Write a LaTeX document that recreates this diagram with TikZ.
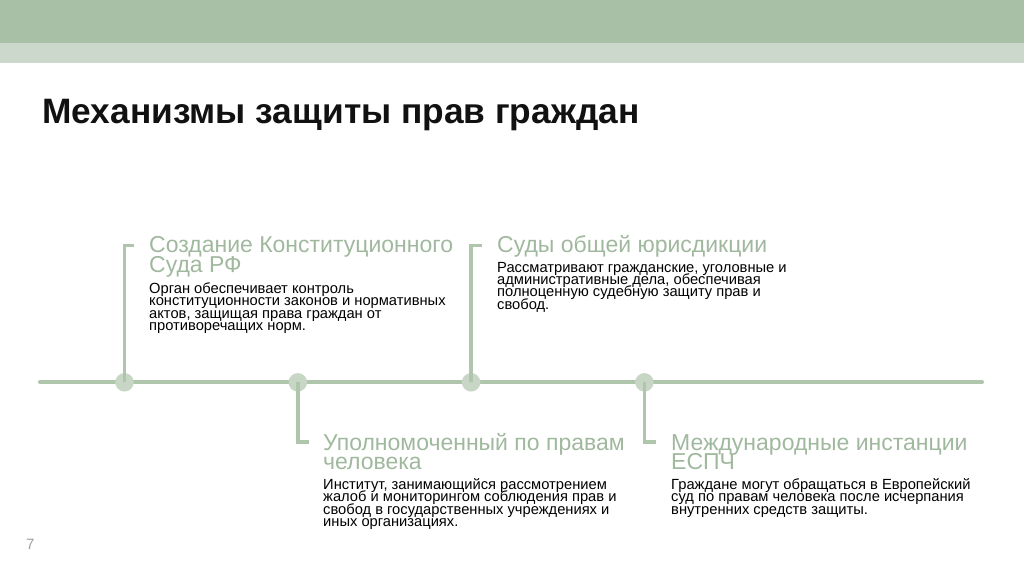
\documentclass[tikz,border=0pt]{standalone}
\usepackage{fontspec}
\setmainfont{Liberation Sans}
\definecolor{topdark}{HTML}{A8C0A6}
\definecolor{toplight}{HTML}{CBD8CB}
\definecolor{linecol}{HTML}{B0C6AC}
\definecolor{dotcol}{HTML}{C8D6C6}
\definecolor{headcol}{HTML}{A0B89D}
\definecolor{titlecol}{HTML}{111111}
\definecolor{numcol}{HTML}{A0A0A0}
\newcommand{\vlines}[1]{\vtop{\lineskiplimit=-100pt\relax\lineskip=0pt\relax #1}}
\tikzset{
  headtext/.style={anchor=base west, inner sep=0pt, text=headcol,
    font=\fontsize{23}{19.7}\selectfont},
  bodytext/.style={anchor=base west, inner sep=0pt, text=black,
    font=\fontsize{14.7}{12.4}\selectfont},
  tline/.style={draw=linecol, line width=4pt, line cap=round},
  bracket/.style={draw=linecol, line width=3.5pt},
  tdot/.style={circle, fill=dotcol, minimum size=18.5pt, inner sep=0pt},
}
\begin{document}
\begin{tikzpicture}[x=1pt, y=-1pt]
\useasboundingbox (0,0) rectangle (1024,574);
% top bars
\fill[topdark] (0,0) rectangle (1024,43.3);
\fill[toplight] (0,43.3) rectangle (1024,62.7);
% title
\node[anchor=base west, inner sep=0pt, text=titlecol,
  font=\fontsize{35.3}{40}\selectfont\bfseries] (title) at (42,123.3)
  {Механизмы защиты прав граждан};
% timeline
\coordinate (tl) at (40,382.3);
\coordinate (tr) at (982,382.3);
\draw[tline] (tl) -- (tr);
% dots
\node[tdot] (d1) at (124.5,382.3) {};
\node[tdot] (d2) at (297.8,382.3) {};
\node[tdot] (d3) at (471.1,382.3) {};
\node[tdot] (d4) at (644.4,382.3) {};
% brackets
\coordinate (c1) at (124.5,245.5);
\coordinate (e1) at (134,245.5);
\draw[bracket] (d1.center) -- (c1) -- (e1);
\coordinate (c3) at (471.1,245.5);
\coordinate (e3) at (482,245.5);
\draw[bracket] (d3.center) -- (c3) -- (e3);
\coordinate (c2) at (297.8,442);
\coordinate (e2) at (309,442);
\draw[bracket] (d2.center) -- (c2) -- (e2);
\coordinate (c4) at (644.4,442);
\coordinate (e4) at (656,442);
\draw[bracket] (d4.center) -- (c4) -- (e4);
% item 1
\node[headtext] (h1) at (149,252.7)
  {\vlines{\hbox{Создание Конституционного}\hbox{Суда РФ}}};
\node[bodytext] (b1) at (149,293.3)
  {\vlines{\hbox{Орган обеспечивает контроль}\hbox{конституционности законов и нормативных}\hbox{актов, защищая права граждан от}\hbox{противоречащих норм.}}};
% item 3
\node[headtext] (h3) at (497,252.7)
  {\vlines{\hbox{Суды общей юрисдикции}}};
\node[bodytext] (b3) at (497,272)
  {\vlines{\hbox{Рассматривают гражданские, уголовные и}\hbox{административные дела, обеспечивая}\hbox{полноценную судебную защиту прав и}\hbox{свобод.}}};
% item 2
\node[headtext] (h2) at (323,450)
  {\vlines{\hbox{Уполномоченный по правам}\hbox{человека}}};
\node[bodytext] (b2) at (323,489.3)
  {\vlines{\hbox{Институт, занимающийся рассмотрением}\hbox{жалоб и мониторингом соблюдения прав и}\hbox{свобод в государственных учреждениях и}\hbox{иных организациях.}}};
% item 4
\node[headtext] (h4) at (671,450)
  {\vlines{\hbox{Международные инстанции}\hbox{ЕСПЧ}}};
\node[bodytext] (b4) at (671,489.3)
  {\vlines{\hbox{Граждане могут обращаться в Европейский}\hbox{суд по правам человека после исчерпания}\hbox{внутренних средств защиты.}}};
% page number
\node[anchor=base west, inner sep=0pt, text=numcol,
  font=\fontsize{15}{18}\selectfont] (pnum) at (26,549.3) {7};
\end{tikzpicture}
\end{document}
